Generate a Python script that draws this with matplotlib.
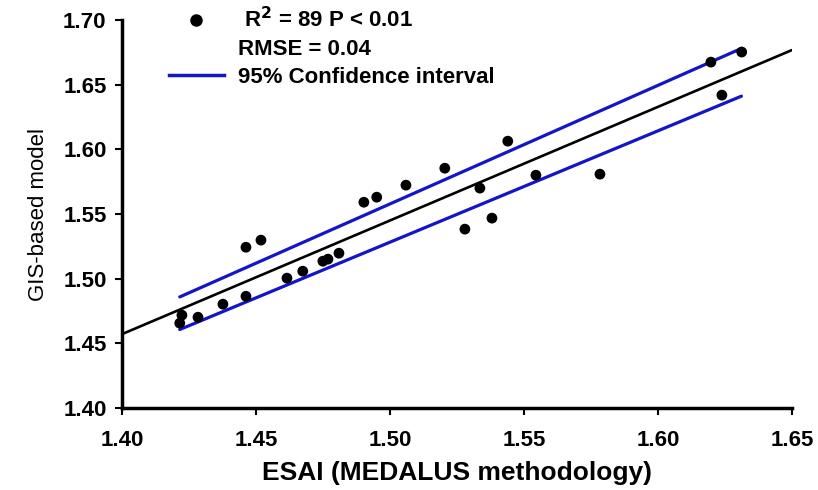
import matplotlib
matplotlib.use("Agg")
import matplotlib.pyplot as plt
from matplotlib.lines import Line2D
import numpy as np

plt.rcParams['font.family'] = ['Liberation Sans', 'DejaVu Sans']

# observed points: ESAI (x) vs GIS-based model (y)
esai = [1.4216, 1.4224, 1.4284, 1.4377, 1.4463, 1.4463, 1.4519, 1.4616, 1.4675,
        1.4750, 1.4769, 1.4810, 1.4903, 1.4951, 1.5060, 1.5205, 1.5280, 1.5336,
        1.5381, 1.5440, 1.5545, 1.5784, 1.6198, 1.6313, 1.6239]
gis = [1.4657, 1.4719, 1.4703, 1.4804, 1.4865, 1.5244, 1.5299, 1.5005, 1.5059,
       1.5136, 1.5152, 1.5198, 1.5592, 1.5631, 1.5724, 1.5855, 1.5384, 1.5701,
       1.5469, 1.6064, 1.5801, 1.5809, 1.6675, 1.6753, 1.6420]

# regression line and 95% confidence band (end points)
fit_x = [1.40, 1.65]
fit_y = [1.4572, 1.6768]
ci_x = [1.4216, 1.6312]
ci_upper = [1.4860, 1.6781]
ci_lower = [1.4608, 1.6412]

xticks = [1.40, 1.45, 1.50, 1.55, 1.60, 1.65]
yticks = [1.40, 1.45, 1.50, 1.55, 1.60, 1.65, 1.70]

blue = '#1414c8'

fig = plt.figure(figsize=(8.18, 4.90), dpi=100)
ax = fig.add_axes([0.149, 0.167, 0.819, 0.792])

ax.plot(fit_x, fit_y, color='black', lw=1.9, solid_capstyle='round', zorder=2)
ax.plot(ci_x, ci_upper, color=blue, lw=2.3, solid_capstyle='round', zorder=3)
ax.plot(ci_x, ci_lower, color=blue, lw=2.3, solid_capstyle='round', zorder=3)
ax.scatter(esai, gis, s=60, color='black', zorder=4, edgecolors='none')

ax.set_xlim(1.40, 1.65)
ax.set_ylim(1.40, 1.70)
ax.set_xticks(xticks)
ax.set_yticks(yticks)
ax.set_xticklabels([f"{t:.2f}" for t in xticks], fontsize=16, fontweight='bold')
ax.set_yticklabels([f"{t:.2f}" for t in yticks], fontsize=16, fontweight='bold')
ax.tick_params(direction='out', length=5, width=1.5, pad=6)
ax.tick_params(axis='x', pad=11)
for s in ['top', 'right']:
    ax.spines[s].set_visible(False)
for s in ['left', 'bottom']:
    ax.spines[s].set_linewidth(2.5)

ax.set_xlabel("ESAI (MEDALUS methodology)", fontsize=19, fontweight='bold', labelpad=7)
ax.set_ylabel("GIS-based model", fontsize=16, labelpad=10)

handles = [
    Line2D([], [], marker='o', color='black', ls='none', markersize=8),
    Line2D([], [], ls='none'),
    Line2D([], [], color=blue, lw=2.5),
]
labels = [r" R$^{\mathbf{2}}$ = 89 P < 0.01", "RMSE = 0.04", "95% Confidence interval"]
leg = ax.legend(handles, labels, loc='upper left', bbox_to_anchor=(0.04, 1.085),
                frameon=False, prop={'size': 16, 'weight': 'bold'},
                handlelength=2.5, handletextpad=0.6, labelspacing=0.3)

fig.savefig("out.png", dpi=100)
